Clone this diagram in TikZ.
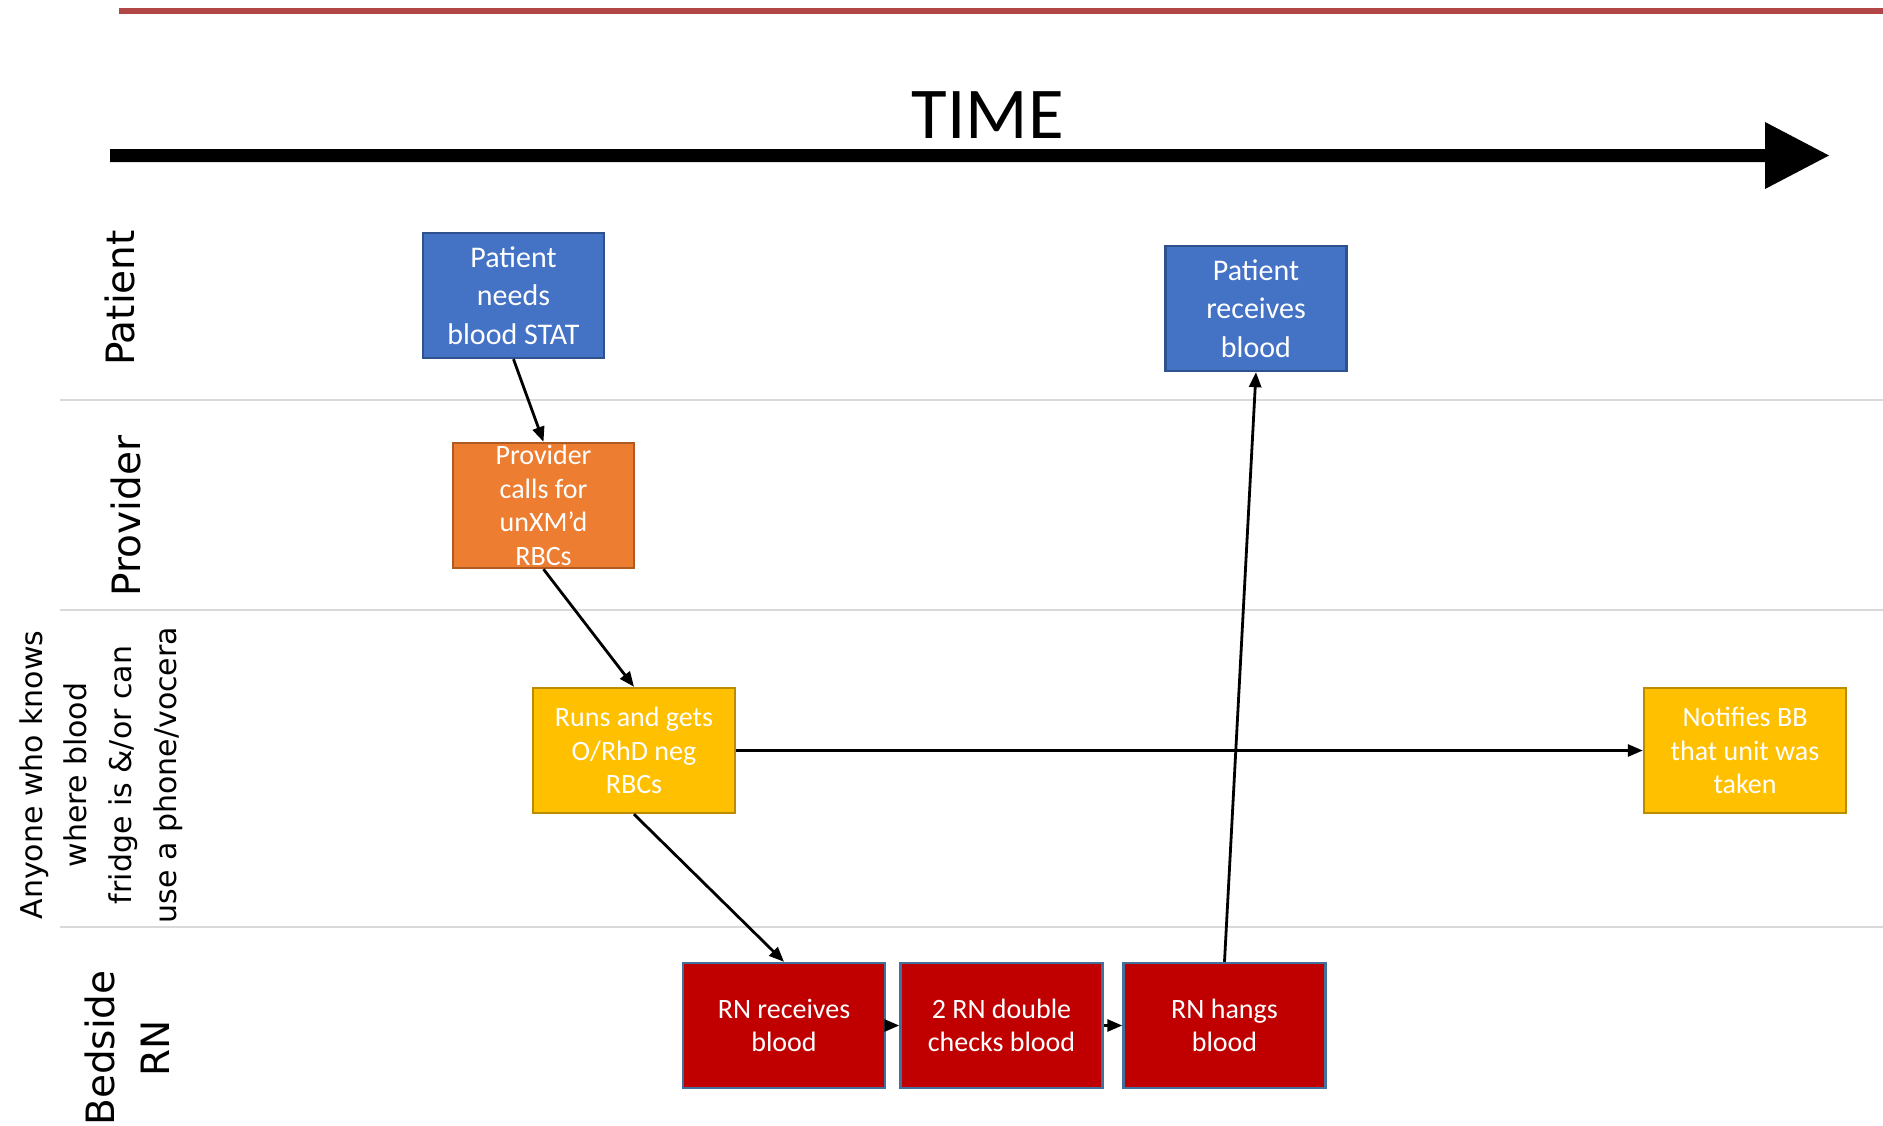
\documentclass[tikz,border=0pt]{standalone}
\usepackage{fontspec}
\setmainfont{Carlito}
\newfontfamily\lanefont{DejaVu Sans}
\usetikzlibrary{arrows.meta}
\definecolor{pblue}{HTML}{4472C4}
\definecolor{pblueb}{HTML}{2F528F}
\definecolor{porange}{HTML}{ED7D31}
\definecolor{porangeb}{HTML}{AE5A21}
\definecolor{pyellow}{HTML}{FFC000}
\definecolor{pyellowb}{HTML}{BC8C00}
\definecolor{pred}{HTML}{C00000}
\definecolor{predb}{HTML}{41719C}
\definecolor{topred}{RGB}{176,70,70}
\definecolor{laneline}{HTML}{D9D9D9}
\begin{document}
\begin{tikzpicture}[x=1pt,y=-1pt,
  boxbase/.style={rectangle, line width=2.4pt, inner sep=0pt, minimum height=125pt},
  bluebox/.style={boxbase, fill=pblue, draw=pblueb, minimum width=181pt},
  orangebox/.style={boxbase, fill=porange, draw=porangeb, minimum width=181pt},
  yellowbox/.style={boxbase, fill=pyellow, draw=pyellowb, minimum width=202pt},
  redbox/.style={boxbase, fill=pred, draw=predb, minimum width=202pt},
  bigtxt/.style={text=white, align=center, inner sep=0pt, font=\fontsize{30}{38.4}\selectfont},
  boxtxt/.style={text=white, align=center, inner sep=0pt, font=\fontsize{28}{33.6}\selectfont},
  lanelbl/.style={rotate=90, align=center, inner sep=0pt, font=\lanefont\fontsize{39}{55}\selectfont},
  lanelblsmall/.style={rotate=90, align=center, inner sep=0pt, font=\lanefont\fontsize{30}{44.6}\selectfont},
  lanesep/.style={draw=laneline, line width=2pt},
  conn/.style={-{Triangle[length=15pt,width=12pt]}, line width=2.8pt}]
\useasboundingbox (0,0) rectangle (1883,1125);

% top red rule
\draw[topred, line width=6pt] (119,11) -- (1883,11);

% time arrow
\fill[black] (110,149) -- (1765,149) -- (1765,122) -- (1829,155.5) -- (1765,189) -- (1765,162) -- (110,162) -- cycle;
\node[anchor=base, inner sep=0pt, font=\fontsize{73}{80}\selectfont] (time) at (988,138) {TIME};

% lane separators
\coordinate (l1a) at (60,400);  \coordinate (l1b) at (1883,400);
\coordinate (l2a) at (60,610);  \coordinate (l2b) at (1883,610);
\coordinate (l3a) at (60,927);  \coordinate (l3b) at (1883,927);
\draw[lanesep] (l1a) -- (l1b);
\draw[lanesep] (l2a) -- (l2b);
\draw[lanesep] (l3a) -- (l3b);

% lane labels
\node[lanelbl] (lpat) at (120,298) {Patient};
\node[lanelbl] (lprov) at (126,516) {Provider};
\node[lanelblsmall] (lany) at (101,775) {Anyone who knows\\where blood\\fridge is \&/or can\\use a phone/vocera};
\node[lanelbl] (lbed) at (127,1048) {Bedside\\RN};

% boxes
\node[bluebox, label={[bigtxt]center:Patient\\needs\\blood STAT}] (pnb) at (513.5,295.5) {};
\node[orangebox, label={[boxtxt]center:Provider\\calls for\\unXM’d\\RBCs}] (prov) at (543.5,505.5) {};
\node[yellowbox, label={[boxtxt]center:Runs and gets\\O/RhD neg\\RBCs}] (runs) at (634,750.5) {};
\node[yellowbox, label={[boxtxt]center:Notifies BB\\that unit was\\taken}] (notif) at (1745,750.5) {};
\node[bluebox, label={[bigtxt]center:Patient\\receives\\blood}] (prb) at (1256,308.5) {};
\node[redbox, label={[boxtxt]center:RN receives\\blood}] (rnr) at (784,1025.5) {};
\node[redbox, label={[boxtxt]center:2 RN double\\checks blood}] (dc) at (1001.5,1025.5) {};
\node[redbox, label={[boxtxt]center:RN hangs\\blood}] (hang) at (1224.5,1025.5) {};

% connectors
\draw[conn] (pnb.south) -- (prov.north);
\draw[conn] (prov.south) -- (runs.north);
\draw[conn] (runs.south) -- (rnr.north);
\draw[conn] (runs.east) -- (notif.west);
\draw[conn] (rnr.east) -- (dc.west);
\draw[conn] (dc.east) -- (hang.west);
\draw[conn] (hang.north) -- (prb.south);
\end{tikzpicture}
\end{document}
